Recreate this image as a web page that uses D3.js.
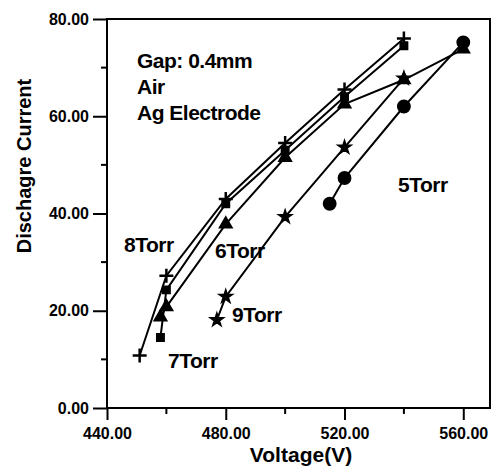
<!DOCTYPE html>
<html>
<head>
<meta charset="utf-8">
<script src="https://cdn.jsdelivr.net/npm/d3@7"></script>
<style>
  body { margin: 0; background: #fff; }
  svg text { font-family: 'Liberation Sans', Arial, sans-serif; font-weight: bold; fill: #000; }
</style>
</head>
<body>
<svg id="chart" width="493" height="472"></svg>
<script>
/* global d3 */
// values
const xTicks = [440, 480, 520, 560]
const xMinor = [460, 500, 540]
const yTicks = [0, 20, 40, 60, 80]
const yMinor = [10, 30, 50, 70]

const v5 = [515, 520, 540, 560]
const i5 = [42, 47.3, 62, 75.2]
const v6 = [458, 460, 480, 500, 520, 540, 560]
const i6 = [18.7, 20.8, 37.8, 51.5, 62.5, 67.5, 73.8]
const v7 = [458, 460, 480, 500, 520, 540]
const i7 = [14.5, 24.3, 42, 53, 64, 74.5]
const v8 = [451, 460, 480, 500, 520, 540]
const i8 = [10.8, 27.2, 43, 54.5, 65.5, 76]
const v9 = [477, 480, 500, 520, 540]
const i9 = [18.1, 22.9, 39.3, 53.6, 67.8]

const seriesNames = ['5Torr', '6Torr', '7Torr', '8Torr', '9Torr']
const seriesMarks = ['circle', 'triangle', 'square', 'plus', 'star']

const series = [
  { v: v5, i: i5 }, { v: v6, i: i6 }, { v: v7, i: i7 }, { v: v8, i: i8 }, { v: v9, i: i9 }
].map((s, k) => ({
  name: seriesNames[k],
  mark: seriesMarks[k],
  pts: s.v.map((d, j) => [d, s.i[j]])
}))

const svg = d3.select('#chart')
const plotLeft = 107
const plotRight = 490
const plotTop = 19
const plotBottom = 408

const x = d3.scaleLinear().domain([440, 569]).range([plotLeft, plotRight])
const y = d3.scaleLinear().domain([0, 80]).range([plotBottom, plotTop])

// frame
svg.append('rect')
  .attr('x', plotLeft).attr('y', plotTop)
  .attr('width', plotRight - plotLeft).attr('height', plotBottom - plotTop)
  .attr('fill', 'none').attr('stroke', '#000').attr('stroke-width', 2)

// x axis
const xAxis = d3.axisBottom(x).tickValues(xTicks).tickSize(12).tickPadding(8)
  .tickFormat(d3.format('.2f'))
const gx = svg.append('g').attr('transform', 'translate(0,' + plotBottom + ')').call(xAxis)
gx.select('.domain').remove()
gx.selectAll('line').attr('stroke-width', 2)
gx.selectAll('text').style('font-size', '16px').attr('fill', '#000')
gx.selectAll('.minor').data(xMinor).enter().append('line')
  .attr('x1', d => x(d)).attr('x2', d => x(d))
  .attr('y1', 0).attr('y2', 6)
  .attr('stroke', '#000').attr('stroke-width', 2)

// y axis
const yAxis = d3.axisLeft(y).tickValues(yTicks).tickSize(14).tickPadding(4)
  .tickFormat(d3.format('.2f'))
const gy = svg.append('g').attr('transform', 'translate(' + plotLeft + ',0)').call(yAxis)
gy.select('.domain').remove()
gy.selectAll('line').attr('stroke-width', 2)
gy.selectAll('text').style('font-size', '16px').attr('fill', '#000')
gy.selectAll('.minor').data(yMinor).enter().append('line')
  .attr('x1', -6).attr('x2', 0)
  .attr('y1', d => y(d)).attr('y2', d => y(d))
  .attr('stroke', '#000').attr('stroke-width', 2)

// axis titles
svg.append('text')
  .attr('x', 301).attr('y', 462)
  .attr('text-anchor', 'middle')
  .style('font-size', '21px')
  .text('Voltage(V)')

svg.append('text')
  .attr('transform', 'translate(31,166) rotate(-90)')
  .attr('text-anchor', 'middle')
  .style('font-size', '20px')
  .text('Dischagre Current')

// lines
const line = d3.line().x(d => x(d[0])).y(d => y(d[1]))
svg.append('g').selectAll('path')
  .data(series).enter().append('path')
  .attr('d', d => line(d.pts))
  .attr('fill', 'none').attr('stroke', '#000').attr('stroke-width', 2)

// markers
const symbolPath = {
  circle: d3.symbol(d3.symbolCircle, 120)(),
  triangle: d3.symbol(d3.symbolTriangle, 70)(),
  square: d3.symbol(d3.symbolSquare, 55)(),
  star: d3.symbol(d3.symbolStar, 55)(),
  plus: 'M-7,0H7M0,-7V7'
}
series.forEach(s => {
  svg.append('g').selectAll('path')
    .data(s.pts).enter().append('path')
    .attr('transform', d => 'translate(' + x(d[0]) + ',' + y(d[1]) + ')')
    .attr('d', symbolPath[s.mark])
    .attr('fill', s.mark === 'plus' ? 'none' : '#000')
    .attr('stroke', '#000')
    .attr('stroke-width', s.mark === 'plus' ? 2.5 : 1.5)
})

// series labels
const labelPos = { '5Torr': [398, 192], '6Torr': [215, 258], '7Torr': [168, 368], '8Torr': [124, 252], '9Torr': [232, 322] }
svg.append('g').selectAll('text')
  .data(seriesNames).enter().append('text')
  .attr('x', d => labelPos[d][0]).attr('y', d => labelPos[d][1])
  .style('font-size', '21px')
  .style('letter-spacing', '-0.5px')
  .text(d => d)

// note
const note = ['Gap: 0.4mm', 'Air', 'Ag Electrode']
svg.append('g').selectAll('text')
  .data(note).enter().append('text')
  .attr('x', 137).attr('y', (d, k) => 68 + k * 26)
  .style('font-size', '21px')
  .style('letter-spacing', '-0.5px')
  .text(d => d)
</script>
</body>
</html>
